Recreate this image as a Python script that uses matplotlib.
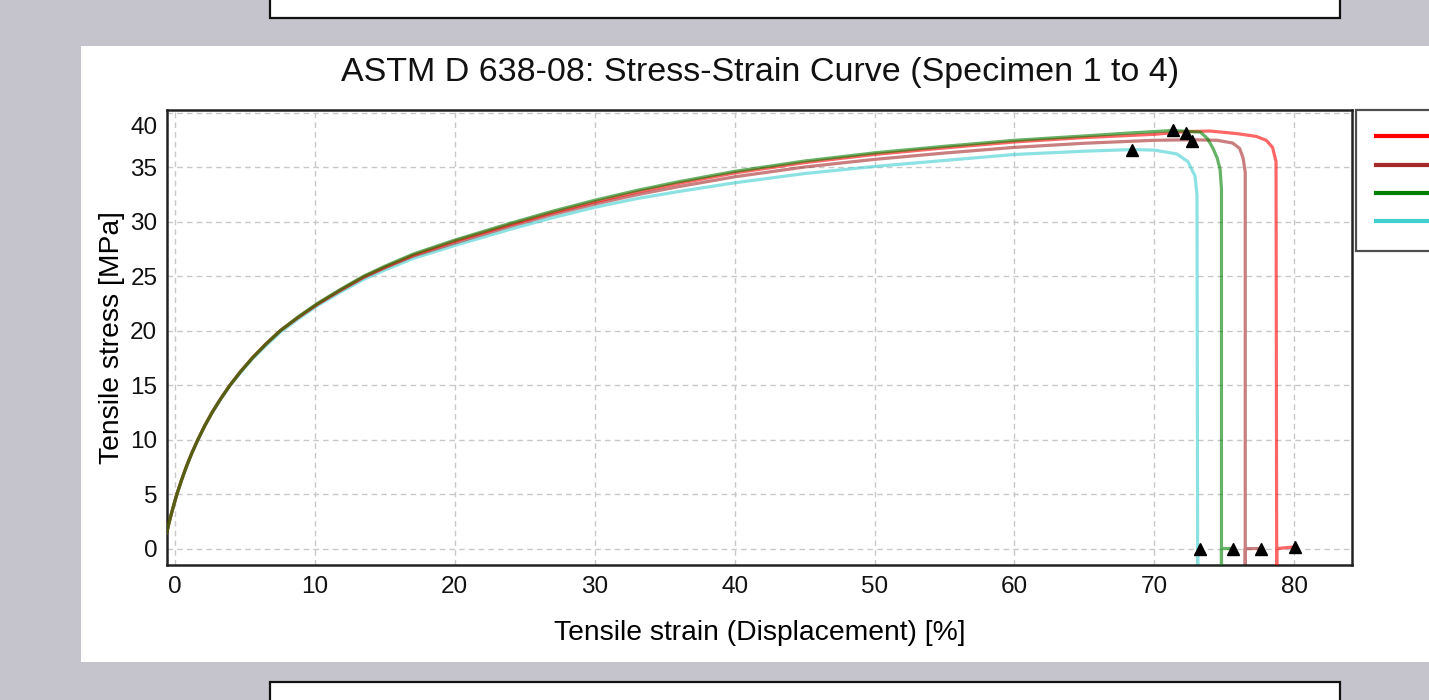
import matplotlib
matplotlib.use("Agg")
import matplotlib.pyplot as plt
from matplotlib.patches import Rectangle
import matplotlib.transforms as mtransforms

plt.rcParams['font.family'] = ['Liberation Sans', 'DejaVu Sans']

# ---------------- data ----------------
labels = ["Specimen 1", "Specimen 2", "Specimen 3", "Specimen 4"]
colors = ["#ff0000", "#a52a2a", "#008000", "#40d0d0"]

# shared strain grid for the rising part [%]
strain_rise = [-0.6, -0.4, -0.14, 0.14, 0.46, 0.81, 1.2, 1.64, 2.12, 2.66, 3.27, 3.94,
               4.7, 5.54, 6.49, 7.54, 8.8, 10.2, 11.8, 13.5, 15, 17, 20, 24, 27, 30,
               33, 36, 40, 45, 50, 55, 60, 65]

stress_rise_1 = [1.4, 2.5, 3.75, 5.0, 6.25, 7.5, 8.75, 10.0, 11.25, 12.5, 13.75, 15.0,
                 16.25, 17.5, 18.75, 20.0, 21.2, 22.45, 23.7, 24.93, 25.82, 26.9, 28.2,
                 29.73, 30.82, 31.8, 32.7, 33.5, 34.45, 35.4, 36.15, 36.75, 37.3, 37.7]
stress_rise_2 = [1.4, 2.5, 3.75, 5.0, 6.25, 7.5, 8.75, 10.0, 11.25, 12.5, 13.75, 15.0,
                 16.25, 17.5, 18.75, 20.0, 21.2, 22.42, 23.65, 24.88, 25.75, 26.82, 28.03,
                 29.58, 30.65, 31.6, 32.45, 33.2, 34.1, 35.0, 35.7, 36.28, 36.8, 37.18]
stress_rise_3 = [1.4, 2.5, 3.75, 5.0, 6.25, 7.5, 8.75, 10.0, 11.25, 12.5, 13.75, 15.0,
                 16.25, 17.5, 18.75, 20.0, 21.25, 22.5, 23.75, 25.0, 25.9, 27.0, 28.3,
                 29.85, 30.95, 31.95, 32.85, 33.65, 34.6, 35.55, 36.3, 36.9, 37.45, 37.85]
stress_rise_4 = [1.4, 2.5, 3.75, 5.0, 6.2, 7.45, 8.7, 9.95, 11.2, 12.45, 13.7, 14.95,
                 16.15, 17.4, 18.6, 19.85, 21.05, 22.3, 23.5, 24.7, 25.55, 26.6, 27.8,
                 29.3, 30.35, 31.3, 32.1, 32.75, 33.55, 34.4, 35.05, 35.6, 36.15, 36.45]

# end of each curve (plateau, fracture drop, return to zero)
strain_tail_1 = [70, 72.3, 74, 76, 77.3, 78.0, 78.45, 78.7, 78.75, 78.75, 80.05]
stress_tail_1 = [38.0, 38.25, 38.3, 38.05, 37.8, 37.45, 36.8, 35.5, -3, 0, 0.15]
strain_tail_2 = [70, 72.7, 74.5, 75.6, 76.1, 76.35, 76.5, 76.5, 76.5, 77.6]
stress_tail_2 = [37.45, 37.5, 37.45, 37.2, 36.7, 35.8, 34.5, -3, 0, 0]
strain_tail_3 = [68, 71.3, 73.3, 73.8, 74.2, 74.5, 74.7, 74.8, 74.8, 74.8, 75.65]
stress_tail_3 = [38.1, 38.35, 38.2, 37.6, 36.7, 35.8, 34.8, 33.0, -3, 0, 0]
strain_tail_4 = [68.4, 70, 71.6, 72.4, 72.9, 73.05, 73.1, 73.1, 73.3]
stress_tail_4 = [36.6, 36.55, 36.2, 35.5, 34.2, 32.5, -3, 0, 0]

# markers: maximum stress and break points
peak_strain = [72.3, 72.7, 71.3, 68.4]
peak_stress = [38.1, 37.4, 38.4, 36.6]
break_strain = [80.05, 77.6, 75.65, 73.3]
break_stress = [0.15, 0.0, 0.0, 0.0]

x_ticks = [0, 10, 20, 30, 40, 50, 60, 70, 80]
y_ticks = [0, 5, 10, 15, 20, 25, 30, 35, 40]

# ---------------- figure ----------------
W, H = 1429, 700
fig = plt.figure(figsize=(W / 100, H / 100), dpi=100)
fig.patch.set_facecolor("#c5c4cc")

def fx(px):
    return px / W

def fy(py):
    return 1 - py / H

# white panel behind the chart
fig.add_artist(Rectangle((fx(81), fy(662)), fx(1500) - fx(81), fy(46) - fy(662),
                         transform=fig.transFigure, facecolor="white", edgecolor="none", zorder=0))
# the boxes at top and bottom of the page
fig.add_artist(Rectangle((fx(270), fy(18)), fx(1340) - fx(270), 0.2,
                         transform=fig.transFigure, facecolor="white", edgecolor="#111111",
                         linewidth=1.6, zorder=0))
fig.add_artist(Rectangle((fx(270), -0.2), fx(1340) - fx(270), fy(682) + 0.2,
                         transform=fig.transFigure, facecolor="white", edgecolor="#111111",
                         linewidth=1.6, zorder=0))

ax = fig.add_axes([fx(167), fy(565), fx(1352) - fx(167), fy(110) - fy(565)])
ax.set_facecolor("white")

rise = [stress_rise_1, stress_rise_2, stress_rise_3, stress_rise_4]
tails = [(strain_tail_1, stress_tail_1), (strain_tail_2, stress_tail_2),
         (strain_tail_3, stress_tail_3), (strain_tail_4, stress_tail_4)]
zorders = [3, 2, 4, 1.5]
for i in range(4):
    xs = strain_rise + tails[i][0]
    ys = rise[i] + tails[i][1]
    ax.plot(xs, ys, color=colors[i], lw=2.3, alpha=0.6, label=labels[i],
            zorder=zorders[i], solid_joinstyle="round")

ax.plot(peak_strain, peak_stress, linestyle="none", marker="^", color="black",
        markersize=8, zorder=6)
ax.plot(break_strain, break_stress, linestyle="none", marker="^", color="black",
        markersize=8, zorder=6)

ax.set_xlim(-0.57, 84.13)
ax.set_ylim(-1.51, 40.23)
ax.set_xticks(x_ticks)
ax.set_yticks(y_ticks)
ax.grid(True, color="#c8c8c8", linestyle=(0, (4, 3)), linewidth=1.0)
ax.set_axisbelow(True)
ax.tick_params(length=0, labelsize=17.5, colors="#111111")
ax.tick_params(axis="x", pad=8)
ax.tick_params(axis="y", pad=7)
for s in ax.spines.values():
    s.set_linewidth(1.8)
    s.set_color("#222222")

# the top label sits a little inside the frame
for lab in ax.get_yticklabels():
    if lab.get_text() == "40":
        lab.set_transform(lab.get_transform() +
                          mtransforms.ScaledTranslation(0, -12.5 / 100, fig.dpi_scale_trans))

ax.set_xlabel("Tensile strain (Displacement) [%]", fontsize=20.3)
ax.xaxis.label.set_va("center")
ax.xaxis.set_label_coords(0.5, (565 - 633) / 455)
ax.set_ylabel("Tensile stress [MPa]", fontsize=20.3)
ax.yaxis.label.set_va("center")
ax.yaxis.label.set_ha("center")
ax.yaxis.set_label_coords((112 - 167) / 1185, 0.5)

fig.text(fx(760), fy(73), "ASTM D 638-08: Stress-Strain Curve (Specimen 1 to 4)",
         ha="center", va="center", fontsize=24.5, color="#111111")

leg = ax.legend(loc="upper left", bbox_to_anchor=(1.0034, 1.0), borderaxespad=0,
                fancybox=False, frameon=True, edgecolor="#222222", fontsize=12,
                handlelength=4.5, borderpad=1.22, labelspacing=0.8)
leg.get_frame().set_linewidth(1.6)
for h in leg.get_lines():
    h.set_alpha(1.0)
    h.set_linewidth(3)

fig.savefig("out.png", dpi=100, facecolor=fig.get_facecolor())
